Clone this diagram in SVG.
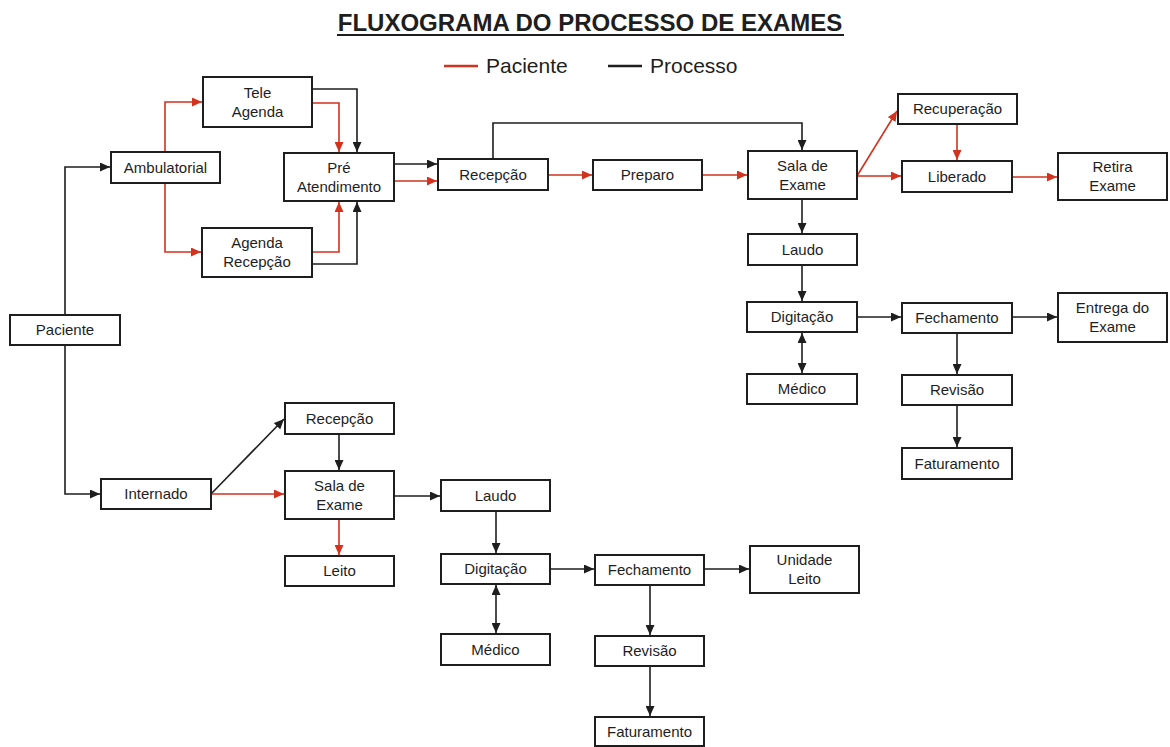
<svg xmlns="http://www.w3.org/2000/svg" width="1170" height="747" viewBox="0 0 1170 747">
<style>
.box{fill:#fff;stroke:#1e1e1e;stroke-width:2}
.t{font-family:"Liberation Sans",Arial,sans-serif;font-size:15px;fill:#1e1e1e;text-anchor:middle}
.k{fill:none;stroke:#1e1e1e;stroke-width:1.6}
.r{fill:none;stroke:#d2321e;stroke-width:1.6}
.kb{marker-end:url(#ab)}
.rb{marker-end:url(#ar)}
.dbl{marker-start:url(#ab);marker-end:url(#ab)}
</style>
<defs>
<marker id="ab" markerUnits="userSpaceOnUse" markerWidth="11" markerHeight="9" refX="10" refY="4.5" orient="auto-start-reverse"><path d="M0,0 L10,4.5 L0,9 z" fill="#1e1e1e"/></marker>
<marker id="ar" markerUnits="userSpaceOnUse" markerWidth="11" markerHeight="9" refX="10" refY="4.5" orient="auto"><path d="M0,0 L10,4.5 L0,9 z" fill="#d2321e"/></marker>
</defs>
<rect width="1170" height="747" fill="#fff"/>
<g id="title">
<text x="590" y="31" font-family="Liberation Sans,Arial,sans-serif" font-size="24" font-weight="bold" fill="#1e1e1e" text-anchor="middle">FLUXOGRAMA DO PROCESSO DE EXAMES</text>
<line x1="337" y1="35" x2="844" y2="35" stroke="#1e1e1e" stroke-width="2"/>
</g>
<g id="legend">
<line x1="444" y1="66" x2="478" y2="66" stroke="#d2321e" stroke-width="2.5"/>
<text x="486" y="73" font-family="Liberation Sans,Arial,sans-serif" font-size="21" fill="#1e1e1e">Paciente</text>
<line x1="608" y1="66" x2="642" y2="66" stroke="#1e1e1e" stroke-width="2.5"/>
<text x="650" y="73" font-family="Liberation Sans,Arial,sans-serif" font-size="21" fill="#1e1e1e">Processo</text>
</g>
<g id="connectors">
<path class="k kb" d="M65,315 V167 H110"/>
<path class="k kb" d="M65,345 V494 H100"/>
<path class="r rb" d="M165,152 V102 H202"/>
<path class="r rb" d="M165,183 V252 H201"/>
<path class="k kb" d="M312,89 H357 V152"/>
<path class="r rb" d="M312,103 H339 V152"/>
<path class="r rb" d="M312,252 H339 V202"/>
<path class="k kb" d="M312,264 H357 V202"/>
<path class="k kb" d="M394,164 H437"/>
<path class="r rb" d="M394,181 H437"/>
<path class="k kb" d="M493,159 V123 H802 V150"/>
<path class="r rb" d="M548,175 H592"/>
<path class="r rb" d="M702,175 H747"/>
<path class="k kb" d="M802,199 V233"/>
<path class="k kb" d="M802,265 V301"/>
<path class="k dbl" d="M802,333 V373"/>
<path class="k kb" d="M857,317 H901"/>
<path class="k kb" d="M1012,317 H1057"/>
<path class="k kb" d="M957,333 V374"/>
<path class="k kb" d="M957,405 V447"/>
<path class="r rb" d="M857,176 L897,111"/>
<path class="r rb" d="M857,176 H901"/>
<path class="r rb" d="M957,124 V160"/>
<path class="r rb" d="M1012,177 H1057"/>
<path class="k kb" d="M211,494 L284,419"/>
<path class="r rb" d="M211,494 H284"/>
<path class="k kb" d="M339,434 V470"/>
<path class="r rb" d="M339,519 V555"/>
<path class="k kb" d="M394,496 H440"/>
<path class="k kb" d="M496,511 V553"/>
<path class="k dbl" d="M496,585 V633"/>
<path class="k kb" d="M550,569 H594"/>
<path class="k kb" d="M704,569 H749"/>
<path class="k kb" d="M650,585 V635"/>
<path class="k kb" d="M650,666 V716"/>
</g>
<g id="n-paciente"><rect class="box" x="10" y="315" width="110" height="30"/><text class="t" x="65" y="335">Paciente</text></g>
<g id="n-ambulatorial"><rect class="box" x="111" y="152" width="109" height="31"/><text class="t" x="165.5" y="173">Ambulatorial</text></g>
<g id="n-tele-agenda"><rect class="box" x="203" y="77" width="109" height="50"/><text class="t" x="257.5" y="98">Tele</text><text class="t" x="257.5" y="117">Agenda</text></g>
<g id="n-agenda-recepcao"><rect class="box" x="202" y="228" width="110" height="49"/><text class="t" x="257" y="248">Agenda</text><text class="t" x="257" y="267">Recepção</text></g>
<g id="n-pre-atendimento"><rect class="box" x="284" y="153" width="110" height="48"/><text class="t" x="339" y="173">Pré</text><text class="t" x="339" y="192">Atendimento</text></g>
<g id="n-recepcao-a"><rect class="box" x="438" y="159" width="110" height="31"/><text class="t" x="493" y="180">Recepção</text></g>
<g id="n-preparo"><rect class="box" x="593" y="160" width="109" height="30"/><text class="t" x="647.5" y="180">Preparo</text></g>
<g id="n-sala-a"><rect class="box" x="748" y="151" width="109" height="48"/><text class="t" x="802.5" y="171">Sala de</text><text class="t" x="802.5" y="190">Exame</text></g>
<g id="n-laudo-a"><rect class="box" x="748" y="234" width="109" height="31"/><text class="t" x="802.5" y="255">Laudo</text></g>
<g id="n-recuperacao"><rect class="box" x="898" y="94" width="119" height="30"/><text class="t" x="957.5" y="114">Recuperação</text></g>
<g id="n-liberado"><rect class="box" x="902" y="161" width="110" height="31"/><text class="t" x="957" y="182">Liberado</text></g>
<g id="n-retira"><rect class="box" x="1058" y="153" width="109" height="47"/><text class="t" x="1112.5" y="172">Retira</text><text class="t" x="1112.5" y="191">Exame</text></g>
<g id="n-digitacao-a"><rect class="box" x="747" y="302" width="110" height="30"/><text class="t" x="802" y="322">Digitação</text></g>
<g id="n-fechamento-a"><rect class="box" x="902" y="303" width="110" height="30"/><text class="t" x="957" y="323">Fechamento</text></g>
<g id="n-entrega"><rect class="box" x="1058" y="293" width="109" height="49"/><text class="t" x="1112.5" y="313">Entrega do</text><text class="t" x="1112.5" y="332">Exame</text></g>
<g id="n-medico-a"><rect class="box" x="747" y="374" width="110" height="30"/><text class="t" x="802" y="394">Médico</text></g>
<g id="n-revisao-a"><rect class="box" x="902" y="375" width="110" height="30"/><text class="t" x="957" y="395">Revisão</text></g>
<g id="n-faturamento-a"><rect class="box" x="902" y="448" width="110" height="31"/><text class="t" x="957" y="469">Faturamento</text></g>
<g id="n-internado"><rect class="box" x="101" y="479" width="110" height="30"/><text class="t" x="156" y="499">Internado</text></g>
<g id="n-recepcao-b"><rect class="box" x="285" y="403" width="109" height="31"/><text class="t" x="339.5" y="424">Recepção</text></g>
<g id="n-sala-b"><rect class="box" x="285" y="471" width="109" height="48"/><text class="t" x="339.5" y="491">Sala de</text><text class="t" x="339.5" y="510">Exame</text></g>
<g id="n-leito"><rect class="box" x="285" y="556" width="109" height="30"/><text class="t" x="339.5" y="576">Leito</text></g>
<g id="n-laudo-b"><rect class="box" x="441" y="480" width="109" height="31"/><text class="t" x="495.5" y="501">Laudo</text></g>
<g id="n-digitacao-b"><rect class="box" x="441" y="554" width="109" height="30"/><text class="t" x="495.5" y="574">Digitação</text></g>
<g id="n-medico-b"><rect class="box" x="441" y="634" width="109" height="31"/><text class="t" x="495.5" y="655">Médico</text></g>
<g id="n-fechamento-b"><rect class="box" x="595" y="555" width="109" height="30"/><text class="t" x="649.5" y="575">Fechamento</text></g>
<g id="n-unidade-leito"><rect class="box" x="750" y="546" width="109" height="47"/><text class="t" x="804.5" y="565">Unidade</text><text class="t" x="804.5" y="584">Leito</text></g>
<g id="n-revisao-b"><rect class="box" x="595" y="636" width="109" height="30"/><text class="t" x="649.5" y="656">Revisão</text></g>
<g id="n-faturamento-b"><rect class="box" x="595" y="717" width="109" height="29"/><text class="t" x="649.5" y="737">Faturamento</text></g>
</svg>
